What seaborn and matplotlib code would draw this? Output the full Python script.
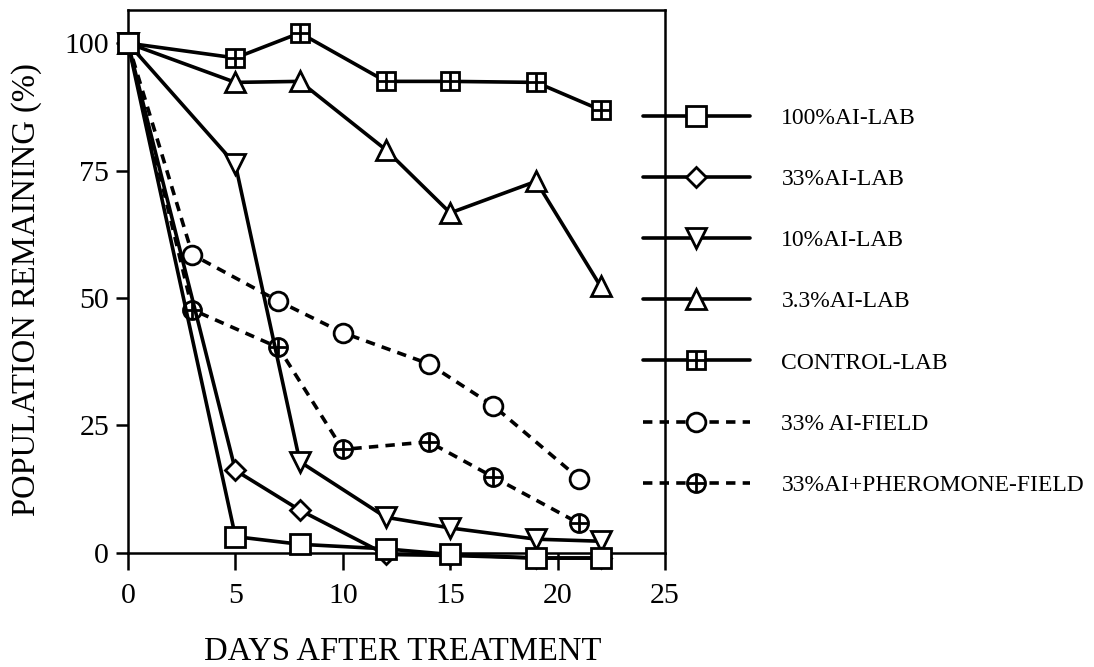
import matplotlib

matplotlib.use("Agg")

import matplotlib.pyplot as plt
import seaborn as sns
from matplotlib.lines import Line2D

# --- data (days after treatment, % population remaining)
lab_days = [0, 5, 8, 12, 15, 19, 22]
field_days = [0, 3, 7, 10, 14, 17, 21]

ai100_lab = [100, 3.2, 1.7, 0.8, -0.3, -1.0, -1.0]
ai33_lab = [100, 16.2, 8.4, -0.3, -0.5, -1.0, -1.0]
ai10_lab = [100, 76.2, 17.9, 7.0, 4.9, 2.7, 2.3]
ai3_lab = [100, 92.3, 92.5, 79.1, 66.7, 72.9, 52.3]
control_lab = [100, 97.1, 102.0, 92.5, 92.5, 92.3, 86.9]
ai33_field = [100, 58.5, 49.4, 43.2, 37.1, 28.9, 14.6]
ai33_pher_field = [100, 47.7, 40.3, 20.3, 21.8, 14.9, 5.8]

labels = [
    "100%AI-LAB",
    "33%AI-LAB",
    "10%AI-LAB",
    "3.3%AI-LAB",
    "CONTROL-LAB",
    "33% AI-FIELD",
    "33%AI+PHEROMONE-FIELD",
]
x_ticks = [0, 5, 10, 15, 20, 25]
y_ticks = [0, 25, 50, 75, 100]

DASH = (0, (2.6, 2.0))
LW = 2.6
MEW = 2.0

# label -> (days, values, marker, size, linestyle, plus overlay, zorder)
series = {
    "33%AI+PHEROMONE-FIELD": (field_days, ai33_pher_field, "o", 13, DASH, True, 3),
    "33% AI-FIELD": (field_days, ai33_field, "o", 13.5, DASH, False, 4),
    "CONTROL-LAB": (lab_days, control_lab, "s", 13, "-", True, 5),
    "3.3%AI-LAB": (lab_days, ai3_lab, "^", 15, "-", False, 6),
    "10%AI-LAB": (lab_days, ai10_lab, "v", 15, "-", False, 7),
    "33%AI-LAB": (lab_days, ai33_lab, "D", 10, "-", False, 8),
    "100%AI-LAB": (lab_days, ai100_lab, "s", 14, "-", False, 10),
}

sns.set_style("ticks")
plt.rcParams["font.family"] = ["Liberation Serif", "DejaVu Serif"]
plt.rcParams["text.color"] = "black"
plt.rcParams["axes.labelcolor"] = "black"

fig = plt.figure(figsize=(10.94, 6.67), dpi=100)
ax = fig.add_axes([0.117, 0.171, 0.4909, 0.814])

for name, (days, vals, marker, ms, ls, plus, z) in series.items():
    sns.lineplot(
        x=days, y=vals, ax=ax, color="black", estimator=None, sort=False,
        linestyle=ls, lw=LW, marker=marker, markersize=ms,
        markerfacecolor="white", markeredgecolor="black", markeredgewidth=MEW,
        zorder=z, clip_on=False,
    )
    if plus:
        # the day-0 point sits under the 100% square, so skip it
        sns.lineplot(
            x=days[1:], y=vals[1:], ax=ax, color="black", estimator=None,
            sort=False, linestyle="", marker="+", markersize=ms,
            markeredgecolor="black", markeredgewidth=MEW,
            zorder=z + 0.5, clip_on=False,
        )

ax.set_xlim(0, 25)
ax.set_ylim(0, 106.5)
ax.set_xticks(x_ticks)
ax.set_yticks(y_ticks)
ax.tick_params(axis="both", labelsize=21.5, width=1.8, colors="black")
ax.tick_params(axis="x", length=12, pad=10)
ax.tick_params(axis="y", length=9, pad=4.5)
for sp in ax.spines.values():
    sp.set_linewidth(1.8)
    sp.set_color("black")

ax.set_xlabel("DAYS AFTER TREATMENT", fontsize=23.5, color="black")
ax.xaxis.set_label_coords(0.512, -0.153)
ax.set_ylabel("POPULATION REMAINING (%)", fontsize=23.5, color="black")
ax.yaxis.set_label_coords(-0.160, 0.486)

# legend handles: same styles as the plotted series
handles = []
for name in labels:
    days, vals, marker, ms, ls, plus, z = series[name]
    base = Line2D([], [], color="black", lw=LW, linestyle=ls, marker=marker,
                  markersize=ms, markerfacecolor="white",
                  markeredgecolor="black", markeredgewidth=MEW)
    if plus:
        over = Line2D([], [], color="black", linestyle="", marker="+",
                      markersize=ms, markeredgewidth=MEW)
        handles.append((base, over))
    else:
        handles.append(base)

fig.legend(
    handles, labels, loc="upper left", bbox_to_anchor=(0.588, 0.839),
    bbox_transform=fig.transFigure, frameon=False, fontsize=17,
    labelcolor="black", handlelength=4.5, handletextpad=1.35,
    labelspacing=1.68, borderpad=0, borderaxespad=0,
)

fig.savefig("out.png", dpi=100)
